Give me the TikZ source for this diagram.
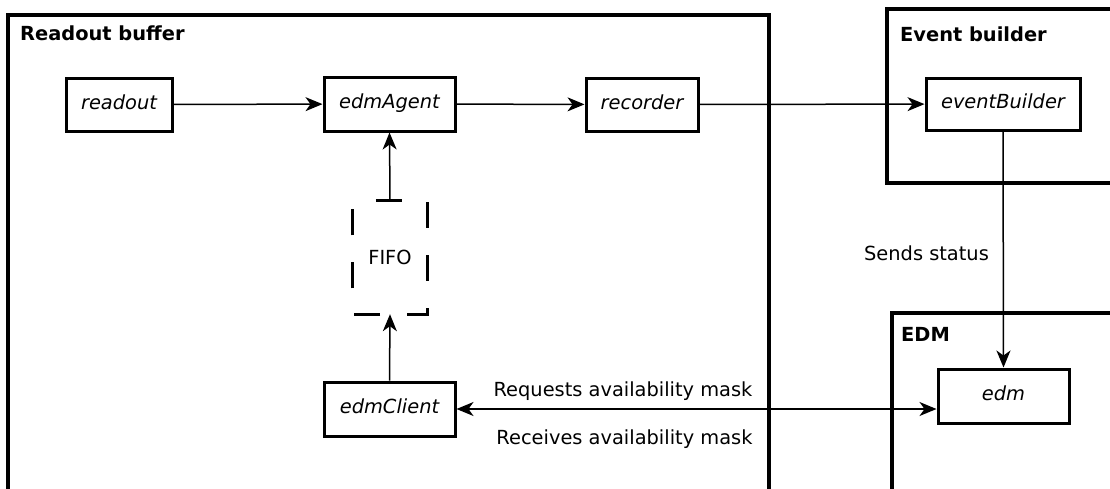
\documentclass[tikz,border=0pt]{standalone}
\usepackage{fontspec}
\setmainfont{DejaVu Sans}
\usetikzlibrary{arrows.meta}
\begin{document}
\begin{tikzpicture}[x=1pt,y=-1pt,
  font=\fontsize{19.4}{23}\selectfont,
  group/.style={draw,line width=3.2pt},
  title/.style={anchor=base west,inner sep=0pt,font=\fontsize{19.4}{23}\selectfont\bfseries},
  comp/.style={draw,line width=3pt,inner sep=0pt,text height=13.5pt,text depth=4.5pt,font=\fontsize{19.4}{23}\selectfont\itshape},
  lbl/.style={anchor=base,inner sep=0pt},
  conn/.style={line width=1.5pt,-{Stealth[length=17pt,width=14pt,inset=5pt]}},
  dconn/.style={line width=1.5pt,{Stealth[length=17pt,width=14pt,inset=5pt]}-{Stealth[length=17pt,width=14pt,inset=5pt]}}]
\useasboundingbox (0,0) rectangle (1110,488);
\clip (0,0) rectangle (1110,488);
% group boxes
\draw[group] (8,15) rectangle (769,500);
\draw[group] (887,9) rectangle (1125,183);
\draw[group] (892,313) rectangle (1125,500);
\node[title] (t1) at (20,40) {Readout buffer};
\node[title] (t2) at (900,41) {Event builder};
\node[title] (t3) at (901,341) {EDM};
% components
\node[comp,minimum width=106pt,minimum height=53pt] (readout) at (119,104.5) {readout};
\node[comp,minimum width=131pt,minimum height=54pt] (agent) at (389.5,104) {edmAgent};
\node[comp,minimum width=112pt,minimum height=53pt] (recorder) at (642,104.5) {recorder};
\node[comp,minimum width=154pt,minimum height=52pt] (eb) at (1003,104) {eventBuilder};
\node[comp,minimum width=131pt,minimum height=54pt] (client) at (389.5,409) {edmClient};
\node[comp,minimum width=131pt,minimum height=54pt] (edm) at (1003.5,396) {edm};
\node[minimum width=74pt,minimum height=113pt,inner sep=0pt] (fifo) at (390,257.5) {FIFO};
\draw[line width=2.8pt,dash pattern=on 26pt off 27pt,dash phase=30pt]
  (fifo.north west) -- (fifo.north east) -- (fifo.south east) -- (fifo.south west) -- cycle;
% connectors
\draw[conn] (readout) -- (agent);
\draw[conn] (agent) -- (recorder);
\draw[conn] (recorder) -- (eb);
\draw[conn] (fifo.north) -- (agent.south);
\draw[conn] (client.north) -- (fifo.south);
\draw[conn] (eb.south) -- (edm.north);
\coordinate (edmin) at (edm.west |- client.east);
\draw[dconn] (client.east) -- (edmin);
% labels
\node[lbl] (l1) at (926.5,260) {Sends status};
\node[lbl] (l2) at (623,396) {Requests availability mask};
\node[lbl] (l3) at (624.5,444) {Receives availability mask};
\end{tikzpicture}
\end{document}
